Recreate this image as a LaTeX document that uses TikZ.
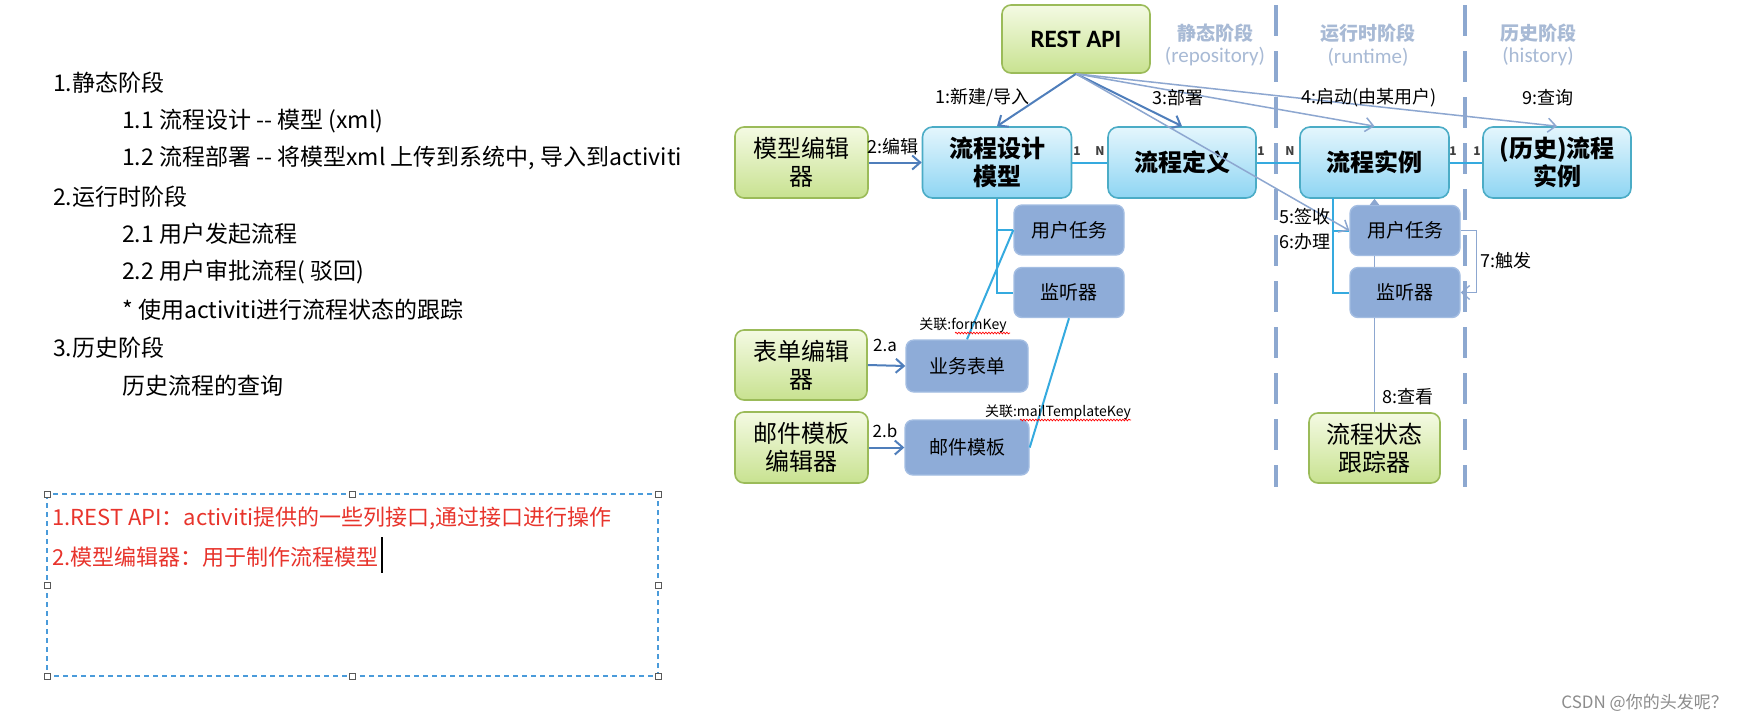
\documentclass[tikz,border=0pt]{standalone}
\usepackage{fontspec}
\usepackage{tikz}
\usetikzlibrary{arrows.meta,decorations.pathmorphing}

\setmainfont{Noto Sans CJK SC}
\newfontfamily\calibri{Carlito}

\definecolor{greenline}{HTML}{9BBB59}
\definecolor{greentop}{HTML}{F4FAE3}
\definecolor{greenbot}{HTML}{C8E290}
\definecolor{blueline}{HTML}{4BACC6}
\definecolor{bluetop}{HTML}{E4F6FD}
\definecolor{bluebot}{HTML}{8ED5F3}
\definecolor{greyfill}{HTML}{8EACD8}
\definecolor{greyline}{HTML}{A3BDE2}
\definecolor{cyanlink}{HTML}{35AADF}
\definecolor{darkarrow}{HTML}{4F7EBB}
\definecolor{lightarrow}{HTML}{8DA7D0}
\definecolor{stagegrey}{HTML}{A8BAD5}
\definecolor{stagedash}{HTML}{8DA8D0}
\definecolor{noteRed}{HTML}{E8342C}
\definecolor{frameBlue}{HTML}{4A9BDA}

\begin{document}
\begin{tikzpicture}[x=1pt,y=-1pt,
  greenbox/.style={draw=greenline, line width=1.6pt, rounded corners=9pt,
    top color=greentop, bottom color=greenbot, align=center, inner sep=0pt,
    minimum width=133pt, minimum height=71pt, font=\fontsize{24}{28}\selectfont},
  bluebox/.style={draw=blueline, line width=1.6pt, rounded corners=10pt,
    top color=bluetop, bottom color=bluebot, align=center, inner sep=0pt,
    minimum width=149pt, minimum height=71pt, font=\bfseries\fontsize{24}{28}\selectfont},
  greybox/.style={draw=greyline, line width=1.4pt, rounded corners=8pt,
    fill=greyfill, align=center, inner sep=0pt,
    minimum width=110pt, minimum height=50pt, font=\fontsize{19}{22}\selectfont},
  lbl/.style={font=\fontsize{18}{20}\selectfont, inner sep=0pt},
  cardl/.style={font=\bfseries\fontsize{12}{14}\selectfont, inner sep=0pt, text=black!75},
  keylbl/.style={font=\fontsize{14}{16}\selectfont, inner sep=0pt},
  link/.style={draw=cyanlink, line width=2pt},
  viewline/.style={draw=lightarrow, line width=1.5pt},
  darkarr/.style={draw=darkarrow, line width=2pt, -{Straight Barb[length=8pt,width=14pt]}},
  lightarr/.style={draw=lightarrow, line width=1.5pt, -{Straight Barb[length=8pt,width=14pt]}},
  stagesep/.style={draw=stagedash, line width=3.5pt, dash pattern=on 31pt off 15pt},
  stagetitle/.style={text=stagegrey, inner sep=0pt},
  outline/.style={font=\fontsize{23}{26}\selectfont, anchor=west, inner sep=0pt},
  handle/.style={draw=black!65, fill=white, line width=0.9pt, minimum size=6pt, inner sep=0pt},
]
\useasboundingbox (0,0) rectangle (1742,724);
\fill[white] (0,0) rectangle (1742,724);

% notes on the left
\node[outline] (st1) at (53,83) {1.静态阶段};
\node[outline] (st11) at (122,121) {1.1 流程设计 -{}- 模型 (xml)};
\node[outline] (st12) at (122,158) {1.2 流程部署 -{}- 将模型xml 上传到系统中, 导入到activiti};
\node[outline] (st2) at (53,197) {2.运行时阶段};
\node[outline] (st21) at (122,234) {2.1 用户发起流程};
\node[outline] (st22) at (122,272) {2.2 用户审批流程( 驳回)};
\node[outline] (st2x) at (122,310) {* 使用activiti进行流程状态的跟踪};
\node[outline] (st3) at (53,348) {3.历史阶段};
\node[outline] (st31) at (122,386) {历史流程的查询};

% selected text box
\draw[frameBlue, line width=1.3pt, dash pattern=on 5pt off 4pt] (47,494) rectangle (658,676);
\foreach \hx/\hy [count=\k] in {47/494,352.5/494,658/494,47/585,658/585,47/676,352.5/676,658/676}
  \node[handle] (hd\k) at (\hx,\hy) {};
\node[outline, font=\fontsize{22}{26}\selectfont, text=noteRed] (note1) at (52,518) {1.REST API：activiti提供的一些列接口,通过接口进行操作};
\node[outline, font=\fontsize{22}{26}\selectfont, text=noteRed] (note2) at (52,557) {2.模型编辑器：用于制作流程模型};
\draw[black, line width=1.5pt] (382,537) -- (382,573);

% stages
\draw[stagesep] (1276,5) -- (1276,487);
\draw[stagesep] (1465,5) -- (1465,487);
\node[stagetitle, font=\bfseries\fontsize{19}{22}\selectfont] (stStatic) at (1215,33) {静态阶段};
\node[stagetitle, font=\calibri\fontsize{21}{24}\selectfont] (stStaticEn) at (1215,57) {(repository)};
\node[stagetitle, font=\bfseries\fontsize{19}{22}\selectfont] (stRun) at (1368,33) {运行时阶段};
\node[stagetitle, font=\calibri\fontsize{21}{24}\selectfont] (stRunEn) at (1368,57) {(runtime)};
\node[stagetitle, font=\bfseries\fontsize{19}{22}\selectfont] (stHist) at (1538,33) {历史阶段};
\node[stagetitle, font=\calibri\fontsize{21}{24}\selectfont] (stHistEn) at (1538,57) {(history)};

% boxes
\node[greenbox, minimum width=148pt, minimum height=68pt, font=\calibri\bfseries\fontsize{25}{28}\selectfont] (rest) at (1076,39) {REST API};
\node[greenbox] (modeler) at (801.5,162.5) {模型编辑\\器};
\node[bluebox] (model) at (997,162.5) {流程设计\\模型};
\node[bluebox, minimum width=148pt] (def) at (1182,162.5) {流程定义};
\node[bluebox] (inst) at (1374.5,162.5) {流程实例};
\node[bluebox, minimum width=148pt] (hist) at (1557,162.5) {(历史)流程\\实例};
\node[greybox] (taskL) at (1069,230) {用户任务};
\node[greybox] (lisL) at (1069,292.5) {监听器};
\node[greenbox, minimum width=132pt, minimum height=70pt] (formEd) at (801,365) {表单编辑\\器};
\node[greybox, minimum width=122pt, minimum height=52pt] (form) at (967,366) {业务表单};
\node[greenbox] (mailEd) at (801.5,447.5) {邮件模板\\编辑器};
\node[greybox, minimum width=124pt, minimum height=55pt] (mail) at (967,447.5) {邮件模板};
\node[greybox] (taskR) at (1405,230.5) {用户任务};
\node[greybox] (lisR) at (1405,292.5) {监听器};
\node[greenbox, minimum width=131pt, minimum height=70pt] (tracker) at (1374.5,448) {流程状态\\跟踪器};

% links
\draw[link] (model) -- (def);
\draw[link] (def) -- (inst);
\draw[link] (inst) -- (hist);
\draw[link] (model.south) |- (lisL.west);
\draw[link] (model.south |- taskL.west) -- (taskL.west);
\draw[link] (taskL.west) -- (form.north);
\draw[link] (lisL.south) -- (mail.east);
\coordinate (instfoot) at (1333,198);
\draw[link] (instfoot) |- (lisR.west);
\draw[link] (instfoot |- taskR.west) -- (taskR.west);
\draw[viewline] (tracker.north) -- (tracker.north |- lisR.south);
\draw[viewline] (tracker.north |- lisR.north) -- (tracker.north |- taskR.south);
\draw[viewline, -{Triangle[length=6pt,width=9pt]}] (tracker.north |- taskR.north) -- (inst.south);

% arrows
\draw[darkarr] (rest.south) -- (model.north);
\draw[darkarr] (rest.south) -- (def.north);
\draw[lightarr] (rest.south) -- (inst.north);
\draw[lightarr] (rest.south) -- (hist.north);
\draw[lightarr] (rest.south) -- (taskR.west);
\draw[darkarr] (modeler) -- (model);
\draw[darkarr] (formEd.east) -- (form.west);
\draw[darkarr] (mailEd) -- (mail);
\draw[lightarr, line width=1.3pt] (taskR.east) -- ++(16,0) |- (lisR.east);

% labels
\node[lbl, anchor=east] (lblNew) at (1030,98) {1:新建/导入};
\node[lbl] (lblDeploy) at (1178,98) {3:部署};
\node[lbl] (lblStart) at (1369,98) {4:启动(由某用户)};
\node[lbl] (lblQuery) at (1548,98) {9:查询};
\node[lbl] (lblEdit) at (893,147) {2:编辑};
\node[lbl, font=\fontsize{17}{20}\selectfont] (lblA) at (885,345) {2.a};
\node[lbl, font=\fontsize{17}{20}\selectfont] (lblB) at (885,431) {2.b};
\node[lbl] (lblSign) at (1305,217) {5:签收};
\node[lbl] (lblDo) at (1305,242) {6:办理};
\node[lbl] (lblTrig) at (1506,261) {7:触发};
\node[lbl] (lblView) at (1408,397) {8:查看};
\node[keylbl] (keyForm) at (963,325) {关联:formKey};
\node[keylbl] (keyMail) at (1058,412) {关联:mailTemplateKey};
\draw[red, line width=0.7pt, decorate, decoration={snake, amplitude=0.8pt, segment length=3pt}] (955,333) -- (1010,333);
\draw[red, line width=0.7pt, decorate, decoration={snake, amplitude=0.8pt, segment length=3pt}] (1020,420) -- (1131,420);
\node[cardl] (c1) at (1077,151) {1};
\node[cardl] (c2) at (1100,151) {N};
\node[cardl] (c3) at (1261,151) {1};
\node[cardl] (c4) at (1290,151) {N};
\node[cardl] (c5) at (1453,151) {1};
\node[cardl] (c6) at (1477,151) {1};

\node[font=\fontsize{17}{20}\selectfont, text=black!45, anchor=east, inner sep=0pt] (mark) at (1728,703) {CSDN @你的头发呢？};
\end{tikzpicture}
\end{document}
